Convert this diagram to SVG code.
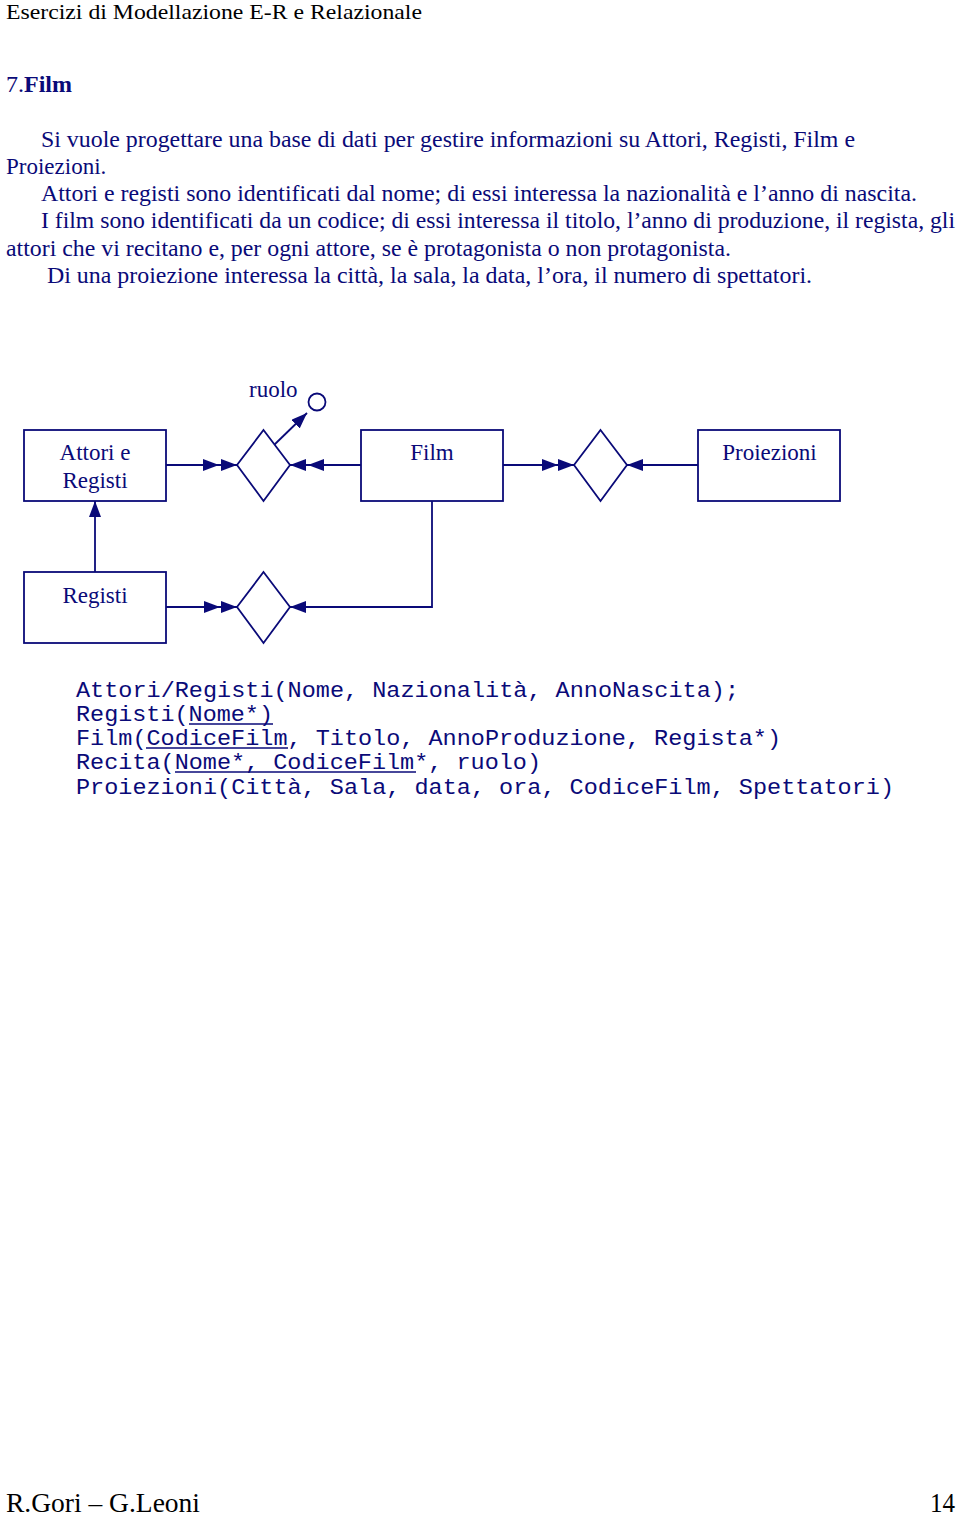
<svg xmlns="http://www.w3.org/2000/svg" width="960" height="1515" viewBox="0 0 960 1515">
<style>
.t{font-family:"Liberation Serif","Times New Roman",serif;fill:#0a0a78}
.p{font-size:23px}
.m{font-family:"Liberation Mono","Courier New",monospace;font-size:22px;fill:#0a0a78}
.box{fill:#fff;stroke:#0a0a78;stroke-width:1.8}
.c{fill:none;stroke:#0a0a78;stroke-width:1.8}
.u{stroke:#0a0a78;stroke-width:1.3}
</style>
<defs>
<marker id="arr" viewBox="0 0 16 12" refX="16" refY="6" markerUnits="userSpaceOnUse" markerWidth="16" markerHeight="12" orient="auto">
<path d="M0,0 L16,6 L0,12 z" fill="#0a0a78"/>
</marker>
</defs>
<rect width="960" height="1515" fill="#fff"/>
<text x="6" y="19" font-family="Liberation Serif, serif" font-size="22" fill="#000" textLength="416" lengthAdjust="spacingAndGlyphs">Esercizi di Modellazione E-R e Relazionale</text>
<text x="6" y="92" class="t" font-size="24">7.<tspan font-weight="bold">Film</tspan></text>
<g class="t p">
<text x="41" y="147" textLength="814" lengthAdjust="spacingAndGlyphs">Si vuole progettare una base di dati per gestire informazioni su Attori, Registi, Film e</text>
<text x="6" y="174">Proiezioni.</text>
<text x="41" y="201" textLength="876" lengthAdjust="spacingAndGlyphs">Attori e registi sono identificati dal nome; di essi interessa la nazionalità e l’anno di nascita.</text>
<text x="41" y="228" textLength="914" lengthAdjust="spacingAndGlyphs">I film sono identificati da un codice; di essi interessa il titolo, l’anno di produzione, il regista, gli</text>
<text x="6" y="256" textLength="725" lengthAdjust="spacingAndGlyphs">attori che vi recitano e, per ogni attore, se è protagonista o non protagonista.</text>
<text x="47" y="283" textLength="765" lengthAdjust="spacingAndGlyphs">Di una proiezione interessa la città, la sala, la data, l’ora, il numero di spettatori.</text>
</g>
<g id="connectors">
<path class="c" d="M166,465 L219,465 L237,465" marker-mid="url(#arr)" marker-end="url(#arr)"/>
<path class="c" d="M361,465 L308,465 L290,465" marker-mid="url(#arr)" marker-end="url(#arr)"/>
<path class="c" d="M503,465 L558,465 L574,465" marker-mid="url(#arr)" marker-end="url(#arr)"/>
<path class="c" d="M698,465 L627,465" marker-end="url(#arr)"/>
<path class="c" d="M95,572 L95,501" marker-end="url(#arr)"/>
<path class="c" d="M166,607 L220,607 L237,607" stroke-width="3" marker-mid="url(#arr)" marker-end="url(#arr)"/>
<path class="c" d="M432,501 L432,607 L290,607" marker-end="url(#arr)"/>
<path class="c" d="M273,446 L307,413" marker-end="url(#arr)"/>
</g>
<g id="attr-ruolo">
<circle cx="317" cy="402" r="8.5" class="box"/>
<text x="249" y="397" class="t" font-size="23">ruolo</text>
</g>
<g id="attori-registi">
<rect x="24" y="430" width="142" height="71" class="box"/>
<text x="95" y="460" class="t" font-size="23" text-anchor="middle">Attori e</text>
<text x="95" y="488" class="t" font-size="23" text-anchor="middle">Registi</text>
</g>
<g id="rel-recita">
<polygon points="263.5,430 290,465 263.5,501 237,465" class="box"/>
</g>
<g id="film">
<rect x="361" y="430" width="142" height="71" class="box"/>
<text x="432" y="460" class="t" font-size="23" text-anchor="middle">Film</text>
</g>
<g id="rel-proiezione">
<polygon points="600.5,430 627,465 600.5,501 574,465" class="box"/>
</g>
<g id="proiezioni">
<rect x="698" y="430" width="142" height="71" class="box"/>
<text x="769.5" y="460" class="t" font-size="23" text-anchor="middle">Proiezioni</text>
</g>
<g id="registi">
<rect x="24" y="572" width="142" height="71" class="box"/>
<text x="95" y="603" class="t" font-size="23" text-anchor="middle">Registi</text>
</g>
<g id="rel-dirige">
<polygon points="263.5,572 290,607 263.5,643 237,607" class="box"/>
</g>
<g id="schema">
<text x="76" y="697" class="m" textLength="663" lengthAdjust="spacingAndGlyphs">Attori/Registi(Nome, Nazionalità, AnnoNascita);</text>
<text x="76" y="721" class="m" textLength="197" lengthAdjust="spacingAndGlyphs">Registi(Nome*)</text>
<line x1="189" y1="724" x2="273" y2="724" class="u"/>
<text x="76" y="745" class="m" textLength="705" lengthAdjust="spacingAndGlyphs">Film(CodiceFilm, Titolo, AnnoProduzione, Regista*)</text>
<line x1="146" y1="748" x2="288" y2="748" class="u"/>
<text x="76" y="769" class="m" textLength="465" lengthAdjust="spacingAndGlyphs">Recita(Nome*, CodiceFilm*, ruolo)</text>
<line x1="175" y1="772" x2="416" y2="772" class="u"/>
<text x="76" y="794" class="m" textLength="818" lengthAdjust="spacingAndGlyphs">Proiezioni(Città, Sala, data, ora, CodiceFilm, Spettatori)</text>
</g>
<text x="6" y="1512" font-family="Liberation Serif, serif" font-size="28" fill="#000" textLength="194" lengthAdjust="spacingAndGlyphs">R.Gori – G.Leoni</text>
<text x="955" y="1512" font-family="Liberation Serif, serif" font-size="28" fill="#000" text-anchor="end" textLength="25" lengthAdjust="spacingAndGlyphs">14</text>
</svg>
